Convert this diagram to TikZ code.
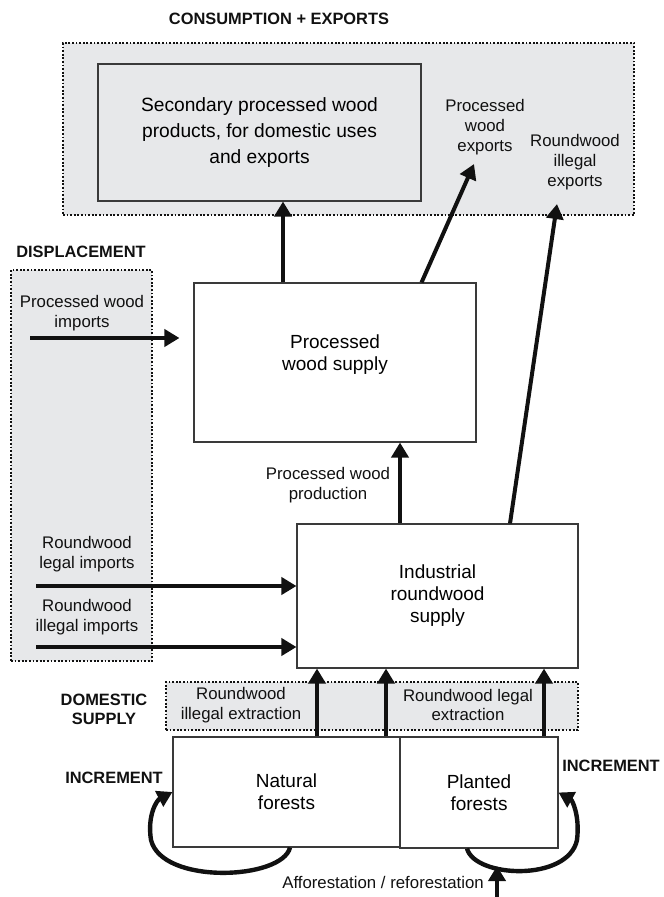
\documentclass[tikz,border=0pt]{standalone}
\usepackage{fontspec}
\setmainfont{Liberation Sans}
\usepackage{tikz}
\usetikzlibrary{arrows.meta,positioning,calc}
\definecolor{ink}{HTML}{111111}
\definecolor{edge}{HTML}{3A3A3A}
\definecolor{haze}{HTML}{E7E8EA}
\newcommand{\lblsize}{\fontsize{8.4}{9.9}\selectfont}
\newcommand{\boxsize}{\fontsize{9.5}{11}\selectfont}
\tikzset{
  box/.style={rectangle, draw=edge, fill=white, line width=0.55pt, align=center,
              inner sep=0pt, font=\boxsize},
  greybox/.style={box, fill=haze},
  grp/.style={rectangle, draw=ink, fill=haze, line width=0.9pt, dash pattern=on 0.9pt off 0.9pt, inner sep=0pt},
  lbl/.style={align=center, inner sep=1pt, font=\lblsize, text=ink},
  head/.style={align=center, inner sep=1pt, font=\fontsize{8.2}{9.6}\selectfont\bfseries, text=ink},
  flow/.style={-{Triangle[length=7.5pt,width=8.5pt]}, draw=ink, line width=2pt},
  curl/.style={-{Triangle[length=7.5pt,width=8.5pt]}, draw=ink, line width=2.2pt}
}
\begin{document}
\begin{tikzpicture}[x=0.5pt,y=-0.5pt]
  \useasboundingbox (0,0) rectangle (663,897);
  \node[grp, minimum width=285.5pt, minimum height=86pt] (cons) at (348.5,129) {};
  \node[grp, minimum width=70.5pt, minimum height=195.5pt] (disp) at (81.5,465.5) {};
  \node[grp, minimum width=206pt, minimum height=24pt] (dom) at (372,706) {};
  \node[greybox, minimum width=161.5pt, minimum height=68.5pt, font=\fontsize{9.6}{12.8}\selectfont]
    (sec) at (259.5,132.5) {Secondary processed wood\\products, for domestic uses\\and exports};
  \node[box, minimum width=141pt, minimum height=79.5pt] (pws) at (335,362.5) {Processed\\wood supply\\[-1pt]};
  \node[box, minimum width=140.5pt, minimum height=72pt] (ind) at (437.5,596) {Industrial\\roundwood\\supply};
  \node[box, minimum width=113.5pt, minimum height=55pt] (nat) at (286.5,792) {Natural\\forests};
  \node[box, minimum width=79pt, minimum height=55.5pt] (pla) at (479,792.5) {Planted\\forests};

  \node[head] (conslbl) at (279,19) {CONSUMPTION + EXPORTS};
  \node[head] (displbl) at (81,252) {DISPLACEMENT};
  \node[head] (domlbl) at (104,709) {DOMESTIC\\SUPPLY};
  \node[head] (incl) at (114,778) {INCREMENT};
  \node[head] (incr) at (611,766) {INCREMENT};
  \node[lbl] (pwexp) at (485,127) {Processed\\wood\\exports};
  \node[lbl] (rwexp) at (575,162) {Roundwood\\illegal\\exports};
  \node[lbl] (pwimp) at (82,313) {Processed wood\\imports};
  \node[lbl] (pwprod) at (328,485) {Processed wood\\production};
  \node[lbl] (rli) at (87,554) {Roundwood\\legal imports};
  \node[lbl] (rii) at (87,617) {Roundwood\\illegal imports};
  \node[lbl] (rie) at (241,705) {Roundwood\\illegal extraction};
  \node[lbl] (rle) at (468,705) {Roundwood legal\\extraction};
  \node[lbl] (afflbl) at (383,882) {Afforestation / reforestation};

  \coordinate (pwimpS) at (30,338);
  \coordinate (rliS) at (36,586);
  \coordinate (riiS) at (36,647);
  \coordinate (affS) at (497,897);
  \coordinate (affT) at (497,866);

  \draw[flow] ([xshift=-26pt]pws.north) -- ([xshift=-26pt]pws.north |- sec.south);
  \draw[flow] ([xshift=-27.5pt]pws.north east) -- ([xshift=-5.5pt,yshift=-3.5pt]pwexp.south);
  \draw[flow] ([xshift=36.25pt]ind.north) -- ([xshift=-9pt,yshift=-6pt]rwexp.south);
  \draw[flow] (pwimpS) -- ([xshift=-7pt]pws.west |- pwimpS);
  \draw[flow] ([xshift=-18.75pt]ind.north) -- ([xshift=-18.75pt]ind.north |- pws.south);
  \draw[flow] (rliS) -- (rliS -| ind.west);
  \draw[flow] (riiS) -- (riiS -| ind.west);
  \foreach \s in {15.25pt,49.75pt}
    \draw[flow] ([xshift=\s]nat.north) -- ([xshift=\s]nat.north |- ind.south);
  \draw[flow] ([xshift=32.5pt]pla.north) -- ([xshift=32.5pt]pla.north |- ind.south);

  \draw[curl] ([xshift=1.75pt]nat.south) .. controls (282,880) and (162,885) .. (151,840)
    .. controls (147,815) and (157,800) .. (nat.west);
  \draw[curl] ([xshift=-6pt]pla.south) .. controls (475,878) and (568,882) .. (577,840)
    .. controls (580,815) and (572,800) .. (pla.east);
  \draw[flow] (affS) -- (affT);
\end{tikzpicture}
\end{document}
